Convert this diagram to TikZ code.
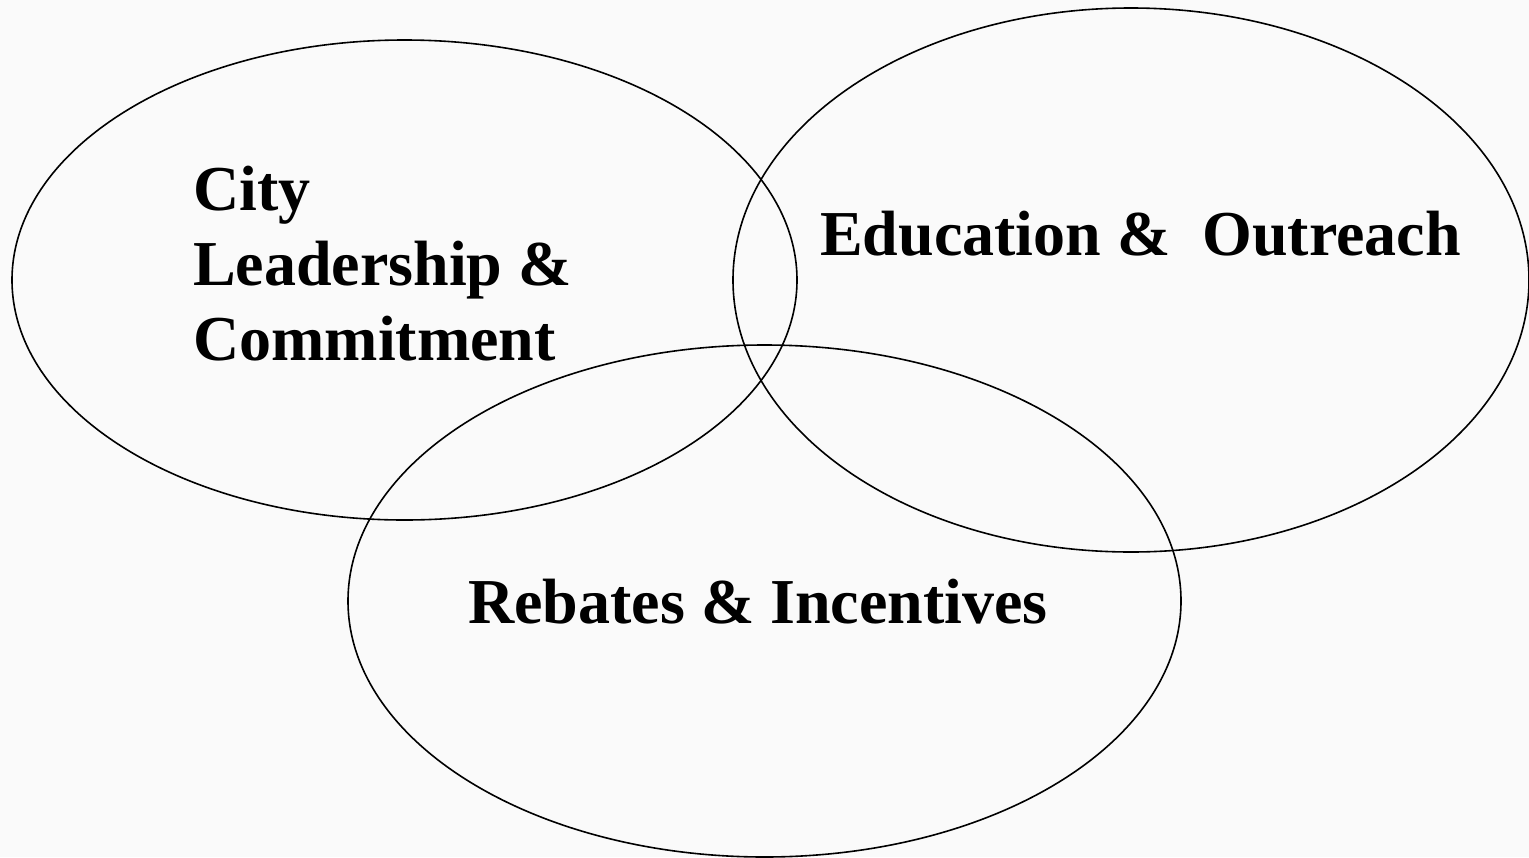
\documentclass[tikz,border=0pt]{standalone}
\usepackage{fontspec}
\setmainfont{Liberation Serif}
\definecolor{bgpaper}{RGB}{250,250,250}
\begin{document}
\begin{tikzpicture}[x=1pt,y=-1pt,
  ring/.style={draw=black,line width=1.6pt},
  label/.style={inner sep=0pt,font=\bfseries\fontsize{64}{75}\selectfont,align=left}]
\fill[bgpaper] (0,0) rectangle (1529,857);
\useasboundingbox (0,0) rectangle (1529,857);
\draw[ring] (404.5,280) ellipse [x radius=392.5, y radius=240];
\draw[ring] (1131,280) ellipse [x radius=398, y radius=272];
\draw[ring] (764.5,601) ellipse [x radius=416.5, y radius=256];
\node[label,anchor=base west] (city) at (193,360) {City\\Leadership \&\\Commitment};
\node[label,anchor=base west] (edu) at (820,255) {Education \&\ \ Outreach};
\node[label,anchor=base west] (reb) at (468,623) {Rebates \& Incentives};
\end{tikzpicture}
\end{document}
